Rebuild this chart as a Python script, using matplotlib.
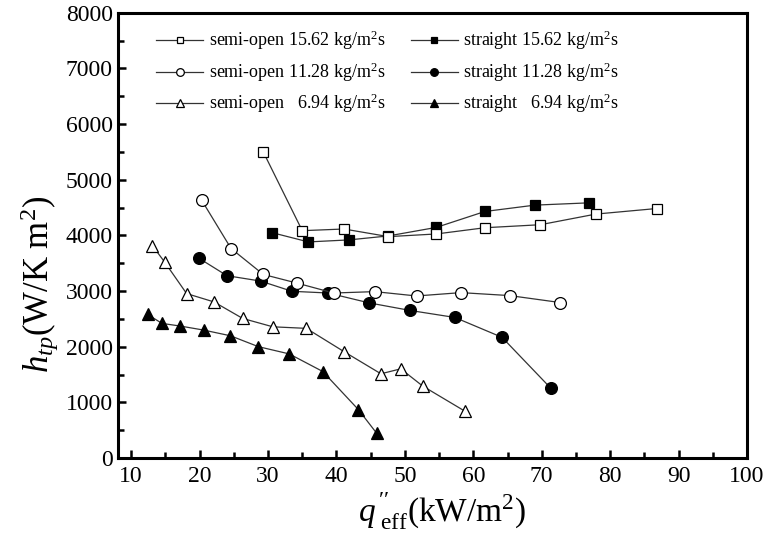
import numpy as np
import matplotlib
matplotlib.use('Agg')
import matplotlib.pyplot as plt
from matplotlib.ticker import MultipleLocator

plt.rcParams['font.family'] = ['Liberation Serif', 'DejaVu Serif']
plt.rcParams['mathtext.fontset'] = 'custom'
plt.rcParams['mathtext.rm'] = 'Liberation Serif'
plt.rcParams['mathtext.it'] = 'Liberation Serif:italic'

# semi-open, 15.62 kg/m2s
so_hi_x = [29.3, 35.0, 41.1, 47.6, 54.6, 61.7, 69.8, 77.9, 86.8]
so_hi_y = [5500, 4084, 4114, 3977, 4025, 4137, 4191, 4382, 4482]
# straight, 15.62 kg/m2s
st_hi_x = [30.6, 35.9, 41.8, 47.6, 54.6, 61.7, 69.0, 76.9]
st_hi_y = [4048, 3882, 3918, 3990, 4143, 4429, 4543, 4584]
# semi-open, 11.28 kg/m2s
so_mid_x = [20.3, 24.6, 29.3, 34.2, 39.6, 45.6, 51.7, 58.2, 65.3, 72.7]
so_mid_y = [4632, 3763, 3298, 3143, 2964, 2989, 2911, 2971, 2918, 2793]
# straight, 11.28 kg/m2s
st_mid_x = [19.9, 24.0, 28.9, 33.5, 38.8, 44.8, 50.8, 57.3, 64.2, 71.3]
st_mid_y = [3589, 3275, 3179, 2995, 2964, 2786, 2650, 2525, 2168, 1257]
# semi-open, 6.94 kg/m2s
so_lo_x = [13.1, 14.9, 18.1, 22.1, 26.3, 30.7, 35.6, 41.1, 46.5, 49.4, 52.6, 58.8]
so_lo_y = [3816, 3518, 2954, 2804, 2507, 2357, 2329, 1911, 1513, 1602, 1293, 839]
# straight, 6.94 kg/m2s
st_lo_x = [12.4, 14.5, 17.2, 20.6, 24.5, 28.6, 33.1, 38.0, 43.2, 45.9]
st_lo_y = [2579, 2418, 2370, 2298, 2196, 2000, 1870, 1554, 870, 441]

labels_so = ['semi-open 15.62 kg/m$^2$s', 'semi-open 11.28 kg/m$^2$s', 'semi-open   6.94 kg/m$^2$s']
labels_st = ['straight 15.62 kg/m$^2$s', 'straight 11.28 kg/m$^2$s', 'straight   6.94 kg/m$^2$s']

fig = plt.figure(figsize=(7.69, 5.41), dpi=100)
ax = fig.add_axes([117.5 / 769, 1 - 458 / 541, (747 - 117.5) / 769, (458 - 12.7) / 541])

lc = '#333333'
kw = dict(color=lc, lw=0.9, mec='black', mew=0.9)

# straight first so the open symbols sit on top
h_st = []
h_st.append(ax.plot(st_hi_x, st_hi_y, marker='s', ms=7, mfc='black', label=labels_st[0], **kw)[0])
h_st.append(ax.plot(st_mid_x, st_mid_y, marker='o', ms=8.5, mfc='black', label=labels_st[1], **kw)[0])
h_st.append(ax.plot(st_lo_x, st_lo_y, marker='^', ms=9, mfc='black', label=labels_st[2], **kw)[0])

h_so = []
h_so.append(ax.plot(so_hi_x, so_hi_y, marker='s', ms=7, mfc='white', label=labels_so[0], **kw)[0])
h_so.append(ax.plot(so_mid_x, so_mid_y, marker='o', ms=8.5, mfc='white', label=labels_so[1], **kw)[0])
h_so.append(ax.plot(so_lo_x, so_lo_y, marker='^', ms=9, mfc='white', label=labels_so[2], **kw)[0])

ax.set_xlim(8, 100)
ax.set_ylim(0, 8000)
ax.xaxis.set_major_locator(MultipleLocator(10))
ax.xaxis.set_minor_locator(MultipleLocator(5))
ax.yaxis.set_major_locator(MultipleLocator(1000))
ax.yaxis.set_minor_locator(MultipleLocator(500))
ax.tick_params(which='both', direction='in', width=1.8, labelsize=17)
ax.tick_params(which='major', length=6)
ax.tick_params(which='minor', length=4)
ax.tick_params(axis='x', pad=6)
for sp in ax.spines.values():
    sp.set_linewidth(2.2)

ax.set_ylabel(r'$h_{tp}$(W/K m$^2$)', fontsize=25)
ax.yaxis.set_label_coords(-0.09, 0.39)
ax.set_xlabel(r'$q^{\,\prime\prime}_{\ \rm eff}$(kW/m$^2$)', fontsize=24, labelpad=0)
ax.xaxis.set_label_coords(0.515, -0.075)

leg = ax.legend(h_so + h_st, labels_so + labels_st, ncol=2, frameon=False,
                loc='upper left', bbox_to_anchor=(0.036, 1.0), fontsize=13,
                handlelength=2.6, handletextpad=0.3, columnspacing=1.4,
                labelspacing=0.45, markerscale=0.65)

fig.savefig('out.png', dpi=100)
